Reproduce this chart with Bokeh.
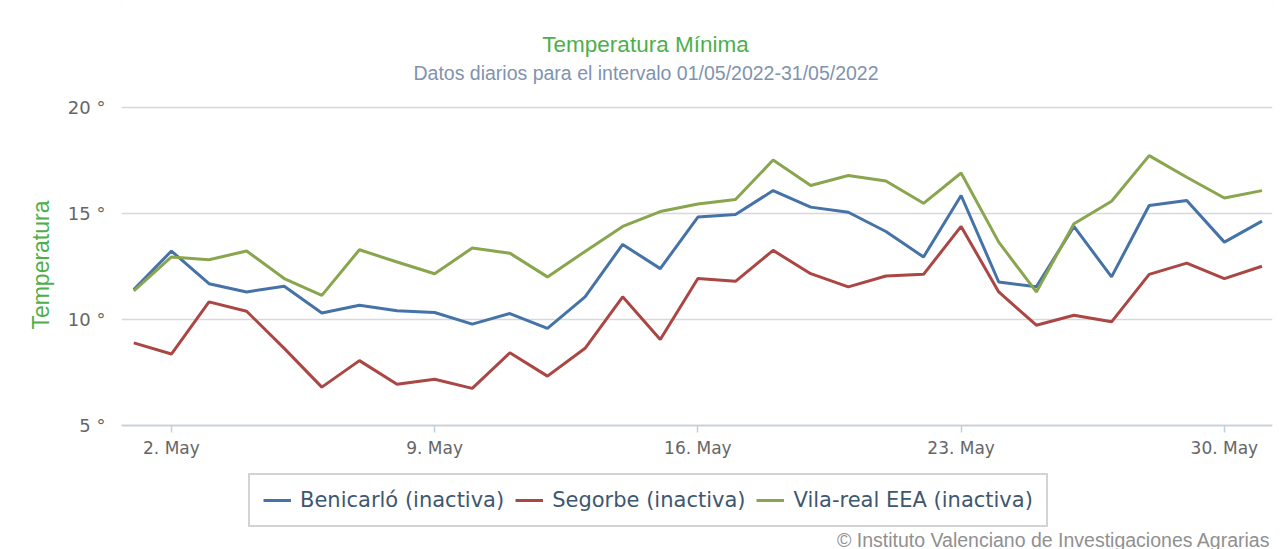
from bokeh.plotting import figure
from bokeh.models import Range1d, Legend, LegendItem, Title, Label, FixedTicker
from bokeh.embed import file_html
from bokeh.resources import INLINE

# ---- data ----
days = list(range(1, 32))
benicarlo = [11.41, 13.23, 11.69, 11.30, 11.57, 10.31, 10.67, 10.41, 10.33, 9.78,
             10.28, 9.58, 11.07, 13.54, 12.40, 14.83, 14.95, 16.08, 15.30, 15.06,
             14.15, 12.95, 15.85, 11.77, 11.54, 14.39, 12.01, 15.38, 15.61, 13.65, 14.64]
segorbe = [8.90, 8.37, 10.83, 10.39, 8.64, 6.81, 8.06, 6.95, 7.18, 6.75,
           8.43, 7.33, 8.64, 11.07, 9.06, 11.93, 11.80, 13.26, 12.16, 11.54,
           12.05, 12.13, 14.39, 11.30, 9.73, 10.20, 9.89, 12.13, 12.66, 11.93, 12.51]
vilareal = [11.35, 12.95, 12.82, 13.23, 11.93, 11.14, 13.29, 12.71, 12.16, 13.37,
            13.13, 12.01, 13.21, 14.39, 15.09, 15.45, 15.66, 17.52, 16.32, 16.79,
            16.53, 15.48, 16.91, 13.65, 11.30, 14.52, 15.58, 17.73, 16.71, 15.73, 16.08]
series_names = ["Benicarló (inactiva)", "Segorbe (inactiva)", "Vila-real EEA (inactiva)"]
series_colors = ["#4572A7", "#AA4643", "#89A54E"]
x_tick_days = [2, 9, 16, 23, 30]
x_tick_labels = ["2. May", "9. May", "16. May", "23. May", "30. May"]
y_ticks = [5, 10, 15, 20]
y_tick_labels = ["5 °", "10 °", "15 °", "20 °"]
y_axis_title = "Temperatura"
title_text = "Temperatura Mínima"
subtitle_text = "Datos diarios para el intervalo 01/05/2022-31/05/2022"
credits_text = "© Instituto Valenciano de Investigaciones Agrarias"

W, H = 1287, 549
# the frame fills the full height; 20 degrees sits at y=107 and 5 degrees at y=425
p = figure(width=W, height=H, output_backend="svg", toolbar_location=None,
           x_range=Range1d(0.673, 31.28), y_range=Range1d(-0.849, 25.047),
           min_border_left=121, min_border_right=15, min_border_top=0, min_border_bottom=0)
p.background_fill_color = "white"
p.border_fill_color = "white"
p.outline_line_color = None
p.styles = {"outline": "2px solid #e2e2e2", "outline-offset": "-6px"}

# grid
p.xgrid.grid_line_color = None
p.ygrid.grid_line_color = "#D8D8D8"
p.ygrid.grid_line_width = 1.5
p.yaxis.ticker = FixedTicker(ticks=y_ticks)
p.xaxis.ticker = FixedTicker(ticks=x_tick_days)
p.xaxis.major_label_overrides = {d: l for d, l in zip(x_tick_days, x_tick_labels)}
p.yaxis.major_label_overrides = {t: l for t, l in zip(y_ticks, y_tick_labels)}

# x axis, fixed at 5 degrees
p.xaxis.fixed_location = y_ticks[0]
p.xaxis.axis_line_color = "#C0D0E0"
p.xaxis.axis_line_width = 1.5
p.xaxis.major_tick_line_color = "#C0D0E0"
p.xaxis.major_tick_line_width = 1.5
p.xaxis.major_tick_out = 7
p.xaxis.major_tick_in = 0
p.xaxis.minor_tick_line_color = None
p.xaxis.minor_tick_out = 0
p.xaxis.major_label_text_font = "DejaVu Sans"
p.xaxis.major_label_text_font_size = "17px"
p.xaxis.major_label_text_color = "#666666"
p.xaxis.major_label_standoff = 5

# y axis
p.yaxis.axis_line_color = None
p.yaxis.major_tick_line_color = None
p.yaxis.minor_tick_line_color = None
p.yaxis.major_tick_out = 0
p.yaxis.major_tick_in = 0
p.yaxis.minor_tick_out = 0
p.yaxis.major_label_text_font = "DejaVu Sans"
p.yaxis.major_label_text_font_size = "18px"
p.yaxis.major_label_text_color = "#666666"
p.yaxis.major_label_standoff = 16

p.add_layout(Title(text=y_axis_title, align="right", offset=200, standoff=22,
                   text_font="Liberation Sans", text_font_size="23px",
                   text_font_style="normal", text_color="#4DAF4A"), "left")

# lines
items = []
for vals, name, col in zip([benicarlo, segorbe, vilareal], series_names, series_colors):
    r = p.line(days, vals, line_color=col, line_width=3)
    items.append(LegendItem(label=name, renderers=[r]))

legend = Legend(items=items, orientation="horizontal", location=(127, 22),
                label_text_font="DejaVu Sans", label_text_font_size="21px",
                label_text_color="#3E576F", glyph_width=28, glyph_height=20,
                label_standoff=9, spacing=11, padding=13, margin=0,
                border_line_color="#A8A8A8", border_line_width=2,
                background_fill_color="white", background_fill_alpha=1.0)
p.add_layout(legend, "center")

# title, subtitle, credits (frame-relative pixel positions)
p.add_layout(Label(x=524, y=505, x_units="screen", y_units="screen", text=title_text,
                   text_align="center", text_baseline="middle",
                   text_font="Liberation Sans", text_font_size="22.5px", text_color="#4DAF4A"))
p.add_layout(Label(x=524.5, y=477, x_units="screen", y_units="screen", text=subtitle_text,
                   text_align="center", text_baseline="middle",
                   text_font="Liberation Sans", text_font_size="19.5px", text_color="#7F93AE"))
p.add_layout(Label(x=1149, y=10, x_units="screen", y_units="screen", text=credits_text,
                   text_align="right", text_baseline="middle",
                   text_font="Liberation Sans", text_font_size="19.5px", text_color="#909090"))

open("out.html", "w").write(file_html(p, INLINE))
